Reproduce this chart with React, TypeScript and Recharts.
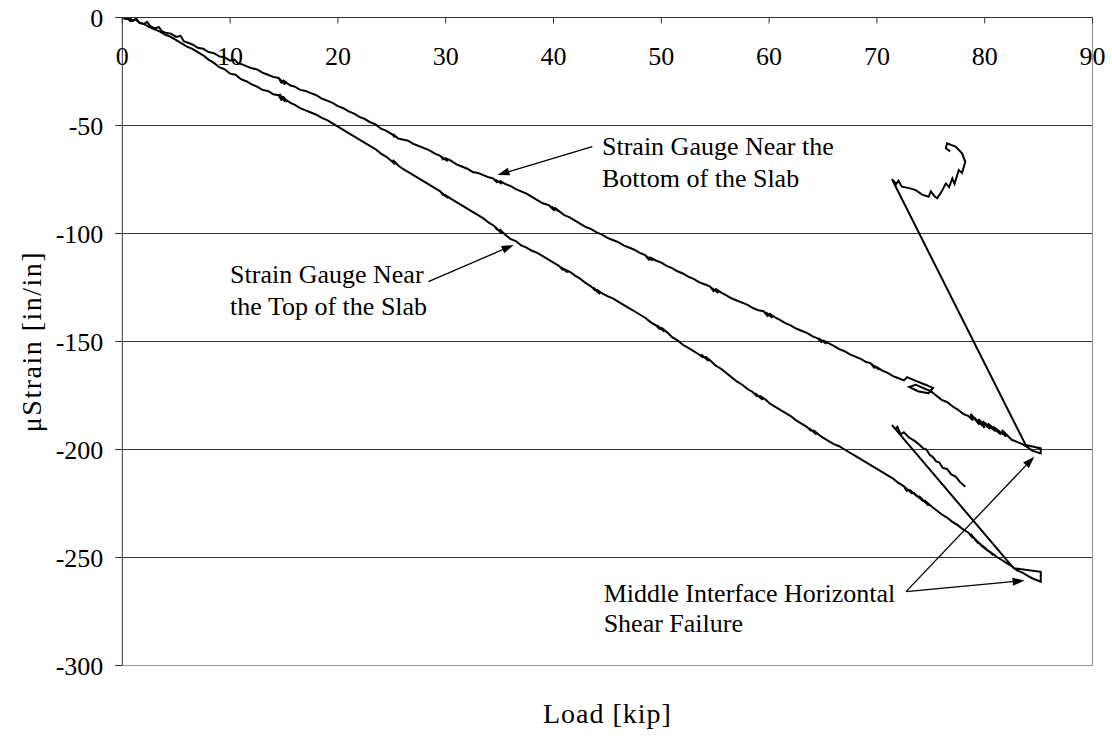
import React from 'react';
import { LineChart, Line, XAxis, YAxis, ReferenceLine, ReferenceDot } from 'recharts';

// [load kip, microstrain] — strain gauge near the BOTTOM of the slab (upper curve)
const bottomGaugeMain: [number, number][] = [
  [0, 0], [0.3, -0.8], [0.6, 0], [1, -1.5], [1.3, -0.5], [1.6, -2.5], [2, -3], [2.3, -2], [2.6, -4], [3, -5],
  [3.4, -4.5], [3.7, -6.5], [4, -7], [4.5, -7.5], [5, -9], [5.4, -8.5], [5.7, -11], [6, -11.5], [6.5, -12.5], [7, -14],
  [7.5, -14.5], [8, -16], [8.5, -16.5], [9, -18], [9.5, -18.5], [10, -20], [10.4, -19.5], [10.7, -21], [11, -21.5], [11.5, -22.5],
  [12, -23.5], [12.5, -24], [13, -25.5], [13.5, -26.5], [14, -27.5], [14.5, -28], [14.8, -30.5], [14.6, -28.5], [15.1, -31], [14.9, -29],
  [15.3, -30.5], [15.6, -31.5], [16, -32], [16.5, -33.5], [17, -34], [17.5, -35], [18, -36], [18.5, -37.5], [19, -38.5], [19.5, -39.5],
  [20, -41], [20.5, -42], [21, -43.5], [21.5, -44.5], [22, -46], [22.5, -47], [23, -48.5], [23.5, -49.5], [24, -51.5], [24.5, -52.5],
  [25, -54], [25.3, -55.5], [25.1, -54], [25.6, -56], [26, -56.5], [26.5, -57], [27, -58.5], [27.5, -59.5], [28, -60.5], [28.5, -61.5],
  [29, -63], [29.5, -64], [29.8, -66], [29.6, -64.5], [30.2, -66.5], [29.9, -65], [30.4, -66], [31, -68], [31.5, -69], [32, -70],
  [32.5, -71.5], [33, -72], [33.5, -73], [34, -74], [34.4, -74.5], [34.8, -76.5], [34.6, -75], [35.2, -77], [35.0, -75.5], [35.5, -77],
  [36, -78], [36.5, -79.5], [37, -80.5], [37.5, -81.5], [38, -83], [38.5, -84.5], [39, -86], [39.6, -87], [40.1, -89.5], [39.8, -87.5],
  [40.4, -89.5], [40.1, -88], [40.6, -90], [41, -91.5], [41.5, -92.5], [42, -94], [42.5, -95.5], [43, -97], [43.5, -98], [44, -99.5],
  [44.5, -100.5], [45, -102], [45.5, -103], [46, -104], [46.5, -105.5], [47, -106.5], [47.5, -107.5], [48, -109], [48.5, -110], [48.9, -112.5],
  [48.6, -110.5], [49.2, -112.5], [48.9, -111], [49.5, -112.5], [50, -113.5], [50.5, -115], [51, -116], [51.5, -117.5], [52, -118.5], [52.5, -120],
  [53, -121], [53.5, -122.5], [54, -123.5], [54.5, -124.5], [54.9, -127], [54.6, -125], [55.3, -127.5], [55.0, -125.5], [55.6, -127.5], [56, -128.5],
  [56.5, -130], [57, -131], [57.5, -132], [58, -133], [58.5, -134.5], [59, -135.5], [59.5, -136], [59.9, -138.5], [59.7, -136.5], [60.3, -139],
  [60.0, -137], [60.6, -139], [61, -140], [61.5, -141.5], [62, -142.5], [62.5, -144], [63, -145], [63.5, -146], [64, -147.5], [64.5, -148.5],
  [64.9, -150.5], [64.6, -148.5], [65.3, -151], [65.0, -149.5], [65.6, -151], [66, -152], [66.5, -153.5], [67, -154.5], [67.5, -156], [68, -157],
  [68.5, -158], [69, -159.5], [69.4, -160], [69.8, -162.5], [69.5, -160.5], [70.2, -163], [69.9, -161.5], [70.5, -163.5], [71, -164.5], [71.5, -166],
  [72, -167], [72.5, -168], [72.8, -166.5], [73.5, -168], [74.5, -170], [75.2, -171.5], [74.8, -174], [73.8, -173], [73.0, -171], [73.6, -170],
  [74.5, -172], [75, -173], [75.5, -175], [76, -177], [76.5, -178], [77, -180], [77.5, -181.5], [78, -183.5], [78.5, -184.5], [78.9, -186.5],
  [78.7, -183.5], [79.5, -188.5], [79.0, -185], [80.0, -190], [79.4, -186], [80.5, -190.5], [79.8, -187], [81.0, -191.5], [80.3, -188], [81.5, -193],
  [80.8, -189.5], [82, -194], [81.6, -191], [82.5, -195.5], [83, -196.5], [83.5, -197.5], [84, -199], [84.4, -200.5], [85.2, -201.8], [85.2, -199.5],
  [83.8, -197.9],
];
const bottomGaugeAfterFailure: [number, number][] = [
  [71.4, -74.9], [71.8, -77], [72.0, -75.5], [72.3, -78.3], [73.0, -79], [73.6, -79.9], [74.2, -82], [74.8, -83], [75.0, -80.5], [75.3, -82.5],
  [75.6, -83.7], [76.0, -80.6], [76.4, -76.8], [76.7, -78.5], [77.0, -74.5], [77.2, -77], [77.6, -70.6], [77.9, -72], [78.2, -66.8], [77.9, -62.9],
  [77.3, -59.8], [76.5, -58.3], [76.4, -60.6], [76.8, -62],
];

// [load kip, microstrain] — strain gauge near the TOP of the slab (lower curve)
const topGaugeMain: [number, number][] = [
  [0, 0], [0.4, -0.3], [0.8, -1.8], [1.2, -0.8], [1.6, -2.5], [2, -3], [2.5, -4.5], [3, -5.5], [3.5, -6.5], [4, -8],
  [4.5, -9], [5, -10.5], [5.5, -12], [6, -13.5], [6.5, -14.5], [7, -16], [7.5, -17.5], [8, -19.5], [8.5, -21], [9, -23],
  [9.5, -24], [10, -26], [10.5, -26.5], [11, -28.5], [11.5, -29.5], [12, -31], [12.5, -32], [13, -33.5], [13.5, -34], [14, -35.5],
  [14.5, -36], [14.8, -38.5], [14.6, -35.5], [15.1, -39], [14.9, -36.5], [15.3, -39], [15.0, -37.5], [15.6, -39.5], [16, -40.5], [16.5, -42],
  [17, -43], [17.5, -44], [18, -45], [18.5, -46.5], [19, -47.5], [19.5, -49], [20, -50.5], [20.5, -52], [21, -53.5], [21.5, -55],
  [22, -56.5], [22.5, -58], [23, -59.5], [23.5, -61], [24, -63], [24.5, -64.5], [25, -66.5], [25.3, -68], [25.1, -66], [25.6, -68.5],
  [26, -70], [26.5, -71.5], [27, -73], [27.5, -74.5], [28, -76], [28.5, -77.5], [29, -79], [29.5, -80.5], [29.8, -82.5], [29.6, -81],
  [30.2, -83.5], [29.9, -82], [30.5, -84], [31, -85.5], [31.5, -87], [32, -88.5], [32.5, -90], [33, -91.5], [33.5, -93], [34, -95],
  [34.5, -96.5], [34.8, -98.5], [34.6, -97], [35.2, -100], [35.0, -98], [35.5, -100.5], [36, -102.5], [36.5, -103.5], [37, -105.5], [37.5, -106.5],
  [38, -108], [38.5, -109], [39, -110.5], [39.5, -112], [40, -113.5], [40.5, -115], [40.9, -117], [40.7, -115.5], [41.3, -118], [41.0, -116.5],
  [41.6, -118], [42, -119.5], [42.5, -121], [43, -123], [43.5, -124.5], [43.9, -126.5], [43.7, -125], [44.3, -128], [44.0, -126], [44.6, -128],
  [45, -129], [45.5, -130], [46, -131.5], [46.5, -133], [47, -134.5], [47.5, -136], [48, -137.5], [48.5, -139], [49, -141], [49.5, -142.5],
  [49.9, -144.5], [49.6, -142.5], [50.3, -145.5], [50.0, -143.5], [50.6, -146], [51, -148], [51.5, -149.5], [52, -151.5], [52.5, -153], [53, -154.5],
  [53.5, -156], [53.9, -157.5], [53.7, -156], [54.4, -159], [54.1, -157], [54.7, -159.5], [55, -161], [55.5, -162.5], [56, -164.5], [56.5, -166.5],
  [57, -168.5], [57.5, -170], [58, -172], [58.5, -173.5], [58.9, -175.5], [58.7, -174], [59.4, -177], [59.1, -175], [59.7, -177], [60, -178.5],
  [60.5, -180], [61, -181.5], [61.5, -183], [62, -184.5], [62.5, -186.5], [63, -188], [63.5, -189.5], [63.9, -191.5], [63.7, -190], [64.4, -193],
  [64.1, -191], [64.7, -193.5], [65, -194.5], [65.5, -196], [66, -197.5], [66.5, -198.5], [67, -200], [67.5, -201.5], [68, -203], [68.5, -204.5],
  [69, -206], [69.5, -207.5], [70, -209], [70.5, -210.5], [71, -212], [71.5, -213.5], [72, -215.5], [72.5, -217], [72.8, -219.5], [72.6, -217.5],
  [73.3, -220.5], [73.0, -218.5], [73.8, -222], [73.4, -220], [74.3, -224], [73.9, -221.5], [74.8, -226], [74.4, -223.5], [75.1, -226.5], [75.5, -228],
  [76, -230], [76.5, -231.5], [77, -233.5], [77.5, -235], [78, -237], [78.5, -238.5], [78.9, -241], [78.7, -239], [79.4, -243.5], [79.0, -241],
  [79.9, -245.5], [79.3, -242.5], [80.3, -247], [79.8, -244.5], [80.8, -249], [80.4, -247], [81.2, -250], [81.7, -251.5], [82, -252.5], [82.5, -254],
  [83, -256], [83.5, -257], [84, -258.5], [84.4, -259.6], [85.2, -261.2], [85.2, -256.6], [82.7, -255],
];
const topGaugeAfterFailure: [number, number][] = [
  [71.4, -188.7], [71.7, -190.5], [71.9, -189.5], [72.2, -193], [72.5, -192], [73, -194.5], [73.5, -196], [74, -198], [74.3, -199.5], [74.6, -200],
  [74.9, -202.5], [75.2, -203.5], [75.5, -205.5], [75.8, -206], [76.1, -208.5], [76.5, -209], [76.9, -211.5], [77.3, -212.5], [77.7, -215], [78.2, -217.2],
];

const xTicks = [0, 10, 20, 30, 40, 50, 60, 70, 80, 90];
const yTicks = [0, -50, -100, -150, -200, -250, -300];
const yGridValues = [-50, -100, -150, -200, -250];

const xTitle = 'Load [kip]';
const yTitle = 'μStrain [in/in]';

// annotations: text lines, text anchor (data coords), arrows [x1, y1, x2(tip), y2(tip)] in data coords
const bottomNoteLines = ['Strain Gauge Near the', 'Bottom of the Slab'];
const bottomNoteAnchor = { x: 44.5, y: -63.7 };
const bottomNoteArrows = [[43.6, -59.8, 34.8, -72.9]];

const topNoteLines = ['Strain Gauge Near', 'the Top of the Slab'];
const topNoteAnchor = { x: 10.0, y: -123.1 };
const topNoteArrows = [[28.4, -122.3, 36.3, -105.3]];

const failNoteLines = ['Middle Interface Horizontal', 'Shear Failure'];
const failNoteAnchor = { x: 44.65, y: -270.5 };
const failNoteArrows = [
  [72.7, -265.8, 84.6, -203.3],
  [72.7, -265.8, 83.7, -260.7],
];

const toRows = (pts: [number, number][]) => pts.map(([load, strain]) => ({ load, strain }));
const bottomData = toRows([...bottomGaugeMain, ...bottomGaugeAfterFailure]);
const topData = toRows([...topGaugeMain, ...topGaugeAfterFailure]);

const FONT = '"Liberation Serif", "Times New Roman", serif';
const AXIS_COLOR = '#333333';
const FRAME_COLOR = '#9a9a9a';

const TopTick = (props: any) => {
  const { x, y, payload } = props;
  return (
    <g>
      <line x1={x} y1={y} x2={x} y2={y + 6} stroke={AXIS_COLOR} strokeWidth={1} />
      <text x={x} y={y + 47.5} textAnchor="middle" fontFamily={FONT} fontSize={26} fill="#000">
        {payload.value}
      </text>
    </g>
  );
};

const YTitle = (props: any) => {
  const { viewBox } = props;
  const cx = viewBox.x + 31.5;
  const cy = viewBox.y + viewBox.height / 2;
  return (
    <text
      x={cx}
      y={cy}
      transform={`rotate(-90 ${cx} ${cy})`}
      textAnchor="middle"
      dominantBaseline="central"
      fontFamily={FONT}
      fontSize={28}
      letterSpacing={1.5}
      fill="#000"
    >
      {yTitle}
    </text>
  );
};

const XTitle = (props: any) => {
  const { viewBox } = props;
  const cx = viewBox.x + viewBox.width / 2;
  return (
    <text x={cx} y={viewBox.y + 57.5} textAnchor="middle" fontFamily={FONT} fontSize={28} letterSpacing={1} fill="#000">
      {xTitle}
    </text>
  );
};

const ArrowShape = (props: any) => {
  const { x1, y1, x2, y2 } = props;
  const dx = x2 - x1;
  const dy = y2 - y1;
  const len = Math.sqrt(dx * dx + dy * dy) || 1;
  const ux = dx / len;
  const uy = dy / len;
  const hl = 12;
  const hw = 4;
  const bx = x2 - ux * hl;
  const by = y2 - uy * hl;
  const p1 = `${bx - uy * hw},${by + ux * hw}`;
  const p2 = `${bx + uy * hw},${by - ux * hw}`;
  return (
    <g>
      <line x1={x1} y1={y1} x2={bx} y2={by} stroke="#000" strokeWidth={1.3} />
      <polygon points={`${x2},${y2} ${p1} ${p2}`} fill="#000" />
    </g>
  );
};

const makeNoteShape = (lines: string[], spacing: number) => (props: any) => {
  const { cx, cy } = props;
  return (
    <text x={cx} y={cy} fontFamily={FONT} fontSize={26} fill="#000">
      {lines.map((t, i) => (
        <tspan key={i} x={cx} dy={i === 0 ? 0 : spacing}>
          {t}
        </tspan>
      ))}
    </text>
  );
};

const renderArrows = (arrows: number[][], key: string) =>
  arrows.map((a, i) => (
    <ReferenceLine
      key={`${key}-${i}`}
      segment={[
        { x: a[0], y: a[1] },
        { x: a[2], y: a[3] },
      ]}
      ifOverflow="visible"
      shape={ArrowShape}
    />
  ));

export default function App() {
  return (
    <div style={{ position: 'absolute', left: 0, top: 0, width: 1112, height: 736 }}>
      <LineChart width={1112} height={736} margin={{ top: 16.5, right: 19.5, bottom: 0, left: 0 }}>
        <XAxis
          dataKey="load"
          type="number"
          orientation="top"
          domain={[0, 90]}
          ticks={xTicks}
          height={1}
          tickSize={0}
          tickMargin={0}
          tickLine={false}
          axisLine={{ stroke: AXIS_COLOR, strokeWidth: 1 }}
          tick={(p: any) => <TopTick {...p} />}
          interval={0}
          allowDataOverflow
        />
        <XAxis
          xAxisId="title"
          type="number"
          orientation="bottom"
          domain={[0, 90]}
          height={70.5}
          tick={false}
          tickLine={false}
          axisLine={false}
          label={<XTitle />}
        />
        <YAxis
          type="number"
          domain={[-300, 0]}
          ticks={yTicks}
          width={122.3}
          interval={0}
          tickSize={7}
          tickMargin={12}
          tickLine={{ stroke: AXIS_COLOR }}
          axisLine={{ stroke: AXIS_COLOR, strokeWidth: 1 }}
          tick={{ fontFamily: FONT, fontSize: 26, fill: '#000' }}
          label={<YTitle />}
          allowDataOverflow
        />
        {yGridValues.map((v) => (
          <ReferenceLine key={`g${v}`} y={v} stroke={AXIS_COLOR} strokeWidth={1} />
        ))}
        <ReferenceLine y={-300} stroke={FRAME_COLOR} strokeWidth={1.2} />
        <ReferenceLine x={90} stroke={FRAME_COLOR} strokeWidth={1.2} />
        <Line
          data={bottomData}
          dataKey="strain"
          type="linear"
          stroke="#000"
          strokeWidth={2}
          dot={false}
          isAnimationActive={false}
        />
        <Line
          data={topData}
          dataKey="strain"
          type="linear"
          stroke="#000"
          strokeWidth={2}
          dot={false}
          isAnimationActive={false}
        />
        {renderArrows(bottomNoteArrows, 'b')}
        {renderArrows(topNoteArrows, 't')}
        {renderArrows(failNoteArrows, 'f')}
        <ReferenceDot x={bottomNoteAnchor.x} y={bottomNoteAnchor.y} r={0} ifOverflow="visible" shape={makeNoteShape(bottomNoteLines, 32)} />
        <ReferenceDot x={topNoteAnchor.x} y={topNoteAnchor.y} r={0} ifOverflow="visible" shape={makeNoteShape(topNoteLines, 32)} />
        <ReferenceDot x={failNoteAnchor.x} y={failNoteAnchor.y} r={0} ifOverflow="visible" shape={makeNoteShape(failNoteLines, 30)} />
      </LineChart>
    </div>
  );
}
